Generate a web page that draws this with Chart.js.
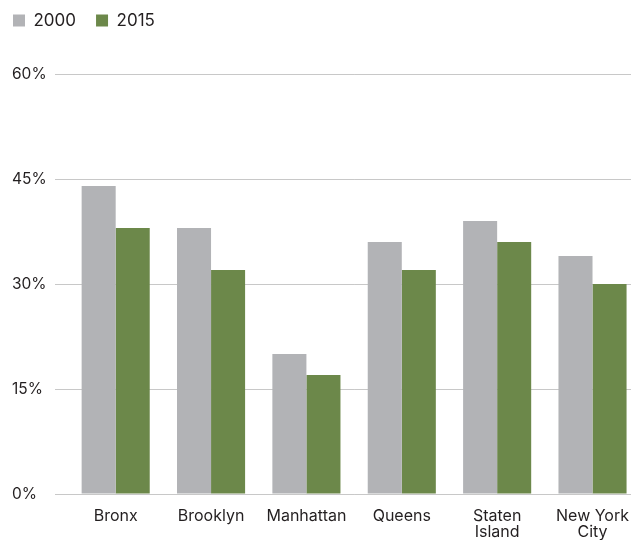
<!DOCTYPE html>
<html>
<head>
<meta charset="utf-8">
<script src="https://cdn.jsdelivr.net/npm/chart.js@4.4.1/dist/chart.umd.min.js"></script>
<style>
  html, body { margin: 0; padding: 0; background: #fff; overflow: hidden; }
  #wrap { width: 643px; height: 540px; position: relative; }
</style>
</head>
<body>
<div id="wrap"><canvas id="c"></canvas></div>
<script>
// Borough categories and share values (percent) for each year
const boroughs = ["Bronx", "Brooklyn", "Manhattan", "Queens", ["Staten", "Island"], ["New York", "City"]];
const years = ["2000", "2015"];
const values2000 = [44, 38, 20, 36, 39, 34];
const values2015 = [38, 32, 17, 32, 36, 30];
const yTicks = [0, 15, 30, 45, 60];

const FONT = "Inter, 'Open Sans', sans-serif";
const TEXT = "#231f20";

// Move the legend up into the top-left corner, above the plot
const legendShift = {
  id: "legendShift",
  afterLayout(chart) {
    const lg = chart.legend;
    if (lg) {
      lg.left -= 19; lg.right -= 19;
      lg.top -= 35; lg.bottom -= 35;
    }
  }
};

new Chart(document.getElementById("c"), {
  type: "bar",
  data: {
    labels: boroughs,
    datasets: [
      { label: years[0], data: values2000, backgroundColor: "#b2b3b6" },
      { label: years[1], data: values2015, backgroundColor: "#6c884a" }
    ]
  },
  options: {
    responsive: true,
    maintainAspectRatio: false,
    animation: false,
    layout: { padding: { left: 12, top: 27, right: 0, bottom: 0 } },
    datasets: { bar: { categoryPercentage: 0.714, barPercentage: 1.0 } },
    plugins: {
      legend: {
        position: "top",
        align: "start",
        labels: {
          boxWidth: 12,
          boxHeight: 12,
          padding: 20,
          color: TEXT,
          font: { family: FONT, size: 17 }
        }
      },
      tooltip: { enabled: false }
    },
    scales: {
      x: {
        afterFit(scale) { scale.height = 46; },
        grid: { display: false, drawTicks: false },
        border: { display: false },
        ticks: {
          color: TEXT,
          padding: 14,
          maxRotation: 0,
          autoSkip: false,
          font: { family: FONT, size: 16, lineHeight: 1.0 }
        }
      },
      y: {
        min: 0,
        max: 60,
        afterBuildTicks(scale) { scale.ticks = yTicks.map(v => ({ value: v })); },
        afterFit(scale) { scale.width = 56; },
        grid: { color: "#c8c8c8", lineWidth: 1, tickLength: 13, drawTicks: true },
        border: { display: false },
        ticks: {
          color: TEXT,
          padding: 8,
          crossAlign: "far",
          font: { family: FONT, size: 15.5 },
          callback: v => v + "%"
        }
      }
    }
  },
  plugins: [legendShift]
});
</script>
</body>
</html>
